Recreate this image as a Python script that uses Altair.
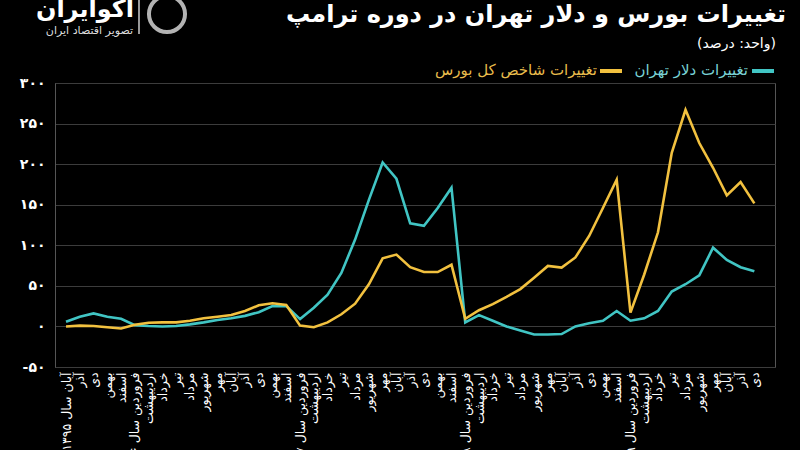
import altair as alt
import pandas as pd

months = ["آبان سال ۱۳۹۵", "آذر", "دی", "بهمن", "اسفند",
          "فروردین سال ۹۶", "اردیبهشت", "خرداد", "تیر", "مرداد", "شهریور", "مهر", "آبان", "آذر", "دی", "بهمن", "اسفند",
          "فروردین سال ۹۷", "اردیبهشت", "خرداد", "تیر", "مرداد", "شهریور", "مهر", "آبان", "آذر", "دی", "بهمن", "اسفند",
          "فروردین سال ۹۸", "اردیبهشت", "خرداد", "تیر", "مرداد", "شهریور", "مهر", "آبان", "آذر", "دی", "بهمن", "اسفند",
          "فروردین سال ۹۹", "اردیبهشت", "خرداد", "تیر", "مرداد", "شهریور", "مهر", "آبان", "آذر", "دی"]

dollar = [5.7, 12, 16, 12, 9.5, 1.6, 0.5, 0, 0.5, 2.5, 5, 8, 10, 13, 17.5, 25, 25,
          9, 23, 39, 66, 107, 156, 202, 182, 127, 124, 146, 171,
          5, 14, 7, 0, -5, -10, -10, -9.4, 0, 4, 7, 19,
          7, 10, 19, 43, 52, 63, 97, 82, 73, 68]

stock = [0, 1, 0.5, -1, -2.5, 2, 4.5, 5, 5, 7, 10, 12, 14, 19, 26, 28.5, 26.5,
         1, -1, 5, 15, 28, 52, 84, 88.5, 73, 67, 67, 76,
         9.4, 20, 27.5, 36.5, 46, 60, 74.6, 72.5, 85, 111.5, 146, 181,
         17, 64, 116, 214, 267, 226, 195.5, 161.5, 178, 151.6]

series_names = ["تغییرات دلار تهران", "تغییرات شاخص کل بورس"]
colors = ["#41c5c4", "#f2c13f"]

y_ticks = [-50, 0, 50, 100, 150, 200, 250, 300]
y_labels = ["-۵۰", "۰", "۵۰", "۱۰۰", "۱۵۰", "۲۰۰", "۲۵۰", "۳۰۰"]

title_text = "تغییرات بورس و دلار تهران در دوره ترامپ"
subtitle_text = "(واحد: درصد)"
brand = "آکوایران"
brand_sub = "تصویر اقتصاد ایران"

FONT = "DejaVu Sans"

rows = []
for i, m in enumerate(months):
    rows.append({"i": i, "series": series_names[0], "value": dollar[i]})
    rows.append({"i": i, "series": series_names[1], "value": stock[i]})
df = pd.DataFrame(rows)

label_arr = "[" + ",".join("'" + m + "'" for m in months) + "]"
ylabel_arr = "[" + ",".join("'" + m + "'" for m in y_labels) + "]"

W, H = 720, 284
L, T = 55, 83

lines = alt.Chart(df).mark_line(strokeWidth=2.6, clip=False).encode(
    x=alt.X("i:Q", scale=alt.Scale(domain=[-0.8, 51.5], nice=False, zero=False),
            axis=alt.Axis(values=list(range(len(months))), labelExpr=label_arr + "[datum.value]",
                          labelAngle=-90, labelOverlap=False, labelLimit=200, labelPadding=5,
                          labelColor="white", labelFont=FONT, labelFontSize=12.5, ticks=False,
                          domain=False, grid=False, title=None)),
    y=alt.Y("value:Q", scale=alt.Scale(domain=[-50, 300], nice=False),
            axis=alt.Axis(values=y_ticks, labelExpr=ylabel_arr + "[(datum.value+50)/50]",
                          labelColor="white", labelFont=FONT, labelFontSize=14, labelFontWeight="bold",
                          labelPadding=10, ticks=False, domain=True, domainColor="#555",
                          grid=True, gridColor="#3c3c3c", gridWidth=1.2, title=None)),
    color=alt.Color("series:N", scale=alt.Scale(domain=series_names, range=colors), legend=None),
    detail="series:N",
)


def txt(s, x, y, size, color="white", weight="normal", align="right", baseline="middle"):
    return alt.Chart(pd.DataFrame({"t": [s]})).mark_text(
        font=FONT, fontSize=size, fontWeight=weight, color=color, align=align, baseline=baseline
    ).encode(text="t:N", x=alt.value(x - L), y=alt.value(y - T))


def seg(x1, x2, y, color, width=4):
    return alt.Chart(pd.DataFrame({"a": [0]})).mark_rule(color=color, strokeWidth=width).encode(
        x=alt.value(x1 - L), x2=alt.value(x2 - L), y=alt.value(y - T))


layers = [
    lines,
    txt(title_text, 786, 15, 24, weight="bold"),
    txt(subtitle_text, 776, 44, 14),
    seg(752, 774, 71, colors[0]),
    txt(series_names[0], 748, 70, 15, color="#79d3d6"),
    seg(600, 622, 71, colors[1]),
    txt(series_names[1], 597, 70, 15, color="#e9bc4c"),
    txt(brand, 134, 10, 24, weight="bold"),
    txt(brand_sub, 133, 31, 11, color="#dddddd"),
    alt.Chart(pd.DataFrame({"a": [0]})).mark_rule(color="white", strokeWidth=1.2).encode(
        x=alt.value(139 - L), y=alt.value(0 - T), y2=alt.value(34 - T)),
    alt.Chart(pd.DataFrame({"a": [0]})).mark_point(shape="circle", size=1300, stroke="white",
                                                   strokeWidth=4, filled=False).encode(
        x=alt.value(167 - L), y=alt.value(14 - T)),
]

chart = alt.layer(*layers).properties(
    width=W, height=H,
    autosize=alt.AutoSizeParams(type="none"),
    padding={"left": L, "top": T, "right": 800 - L - W, "bottom": 450 - T - H},
    background="black",
).configure_view(stroke="#555", strokeWidth=1)

chart.save("out.html", embed_options={"renderer": "svg", "actions": False})
